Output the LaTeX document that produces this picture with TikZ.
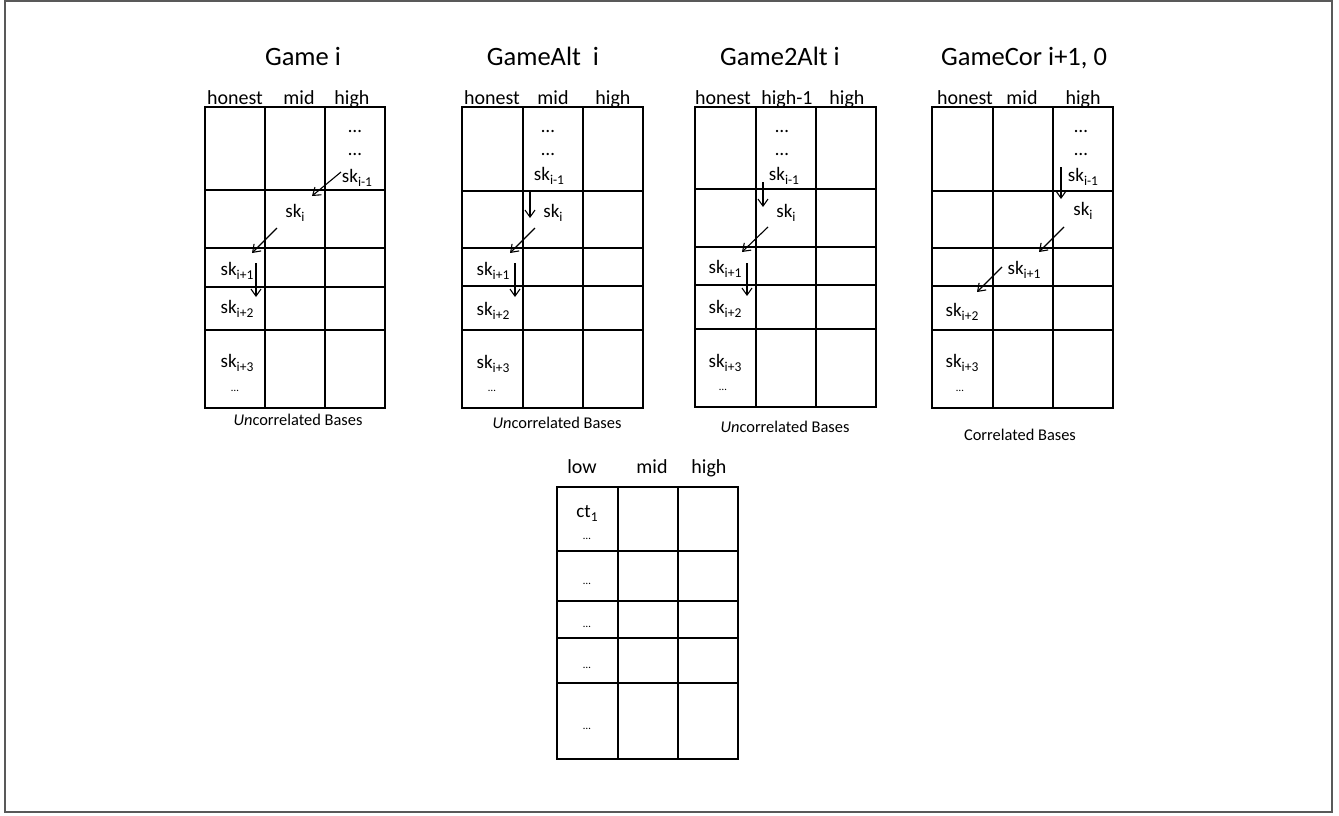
\documentclass[tikz,border=0pt]{standalone}
\usepackage{fontspec}
\setmainfont{Carlito}
\usetikzlibrary{arrows.meta}
\newcommand{\sbs}[1]{\raisebox{-0.45ex}{\fontsize{13.5}{13.5}\selectfont #1}}
\tikzset{
  title/.style={font=\fontsize{26.5}{30}\selectfont, anchor=base, inner sep=0pt},
  colhead/.style={font=\fontsize{20}{22}\selectfont, anchor=base, inner sep=0pt},
  entry/.style={font=\fontsize{19}{22}\selectfont, anchor=base, inner sep=0pt},
  smalldots/.style={font=\fontsize{11}{12}\selectfont, anchor=base, inner sep=0pt},
  caption/.style={font=\fontsize{16.4}{19}\selectfont, inner sep=0pt},
  gridline/.style={line width=1.7pt},
  flow/.style={-{Straight Barb[length=7pt,width=10pt]}, line width=1.1pt}
}
\begin{document}
\begin{tikzpicture}[x=1pt,y=-1pt]
    \useasboundingbox (0,0) rectangle (1339,815);
    \draw[gray!70!black, line width=1.5pt] (5,1) rectangle (1332,812);

    % Game i
    \node[title] (t1) at (303,65) {Game i};
    \node[colhead] (g1h1) at (235,104) {honest};
    \node[colhead] (g1h2) at (299,104) {mid};
    \node[colhead] (g1h3) at (352,104) {high};
    \draw[gridline] (205,107) rectangle (385,408);
    \foreach \x in {265,325} \draw[gridline] (\x,107) -- (\x,408);
    \foreach \y in {190,248,287,330} \draw[gridline] (205,\y) -- (385,\y);
    \node[entry] (g1d1) at (355,132) {…};
    \node[entry] (g1d2) at (355,155) {…};
    \node[entry] (g1s0) at (357,182) {sk\sbs{i-1}};
    \node[entry] (g1s1) at (295,217) {sk\sbs{i}};
    \node[entry] (g1s2) at (237,275) {sk\sbs{i+1}};
    \node[entry] (g1s3) at (237,313) {sk\sbs{i+2}};
    \node[entry] (g1s4) at (237,367) {sk\sbs{i+3}};
    \node[smalldots] (g1d3) at (235,391) {…};
    \coordinate (g1a) at (341,172); \coordinate (g1b) at (312,196);
    \coordinate (g1c) at (277,228); \coordinate (g1d) at (252,253);
    \coordinate (g1e) at (256,263); \coordinate (g1f) at (256,297);
    \draw[flow] (g1a) -- (g1b);
    \draw[flow] (g1c) -- (g1d);
    \draw[flow] (g1e) -- (g1f);
    \node[caption] (c1) at (298,420) {\textit{Un}correlated Bases};

    % GameAlt i
    \node[title] (t2) at (543,65) {GameAlt\ \ i};
    \node[colhead] (g2h1) at (492,104) {honest};
    \node[colhead] (g2h2) at (553,104) {mid};
    \node[colhead] (g2h3) at (613,104) {high};
    \draw[gridline] (462,107) rectangle (643,408);
    \foreach \x in {523,583} \draw[gridline] (\x,107) -- (\x,408);
    \foreach \y in {191,248,286,330} \draw[gridline] (462,\y) -- (643,\y);
    \node[entry] (g2d1) at (548,132) {…};
    \node[entry] (g2d2) at (548,155) {…};
    \node[entry] (g2s0) at (549,180) {sk\sbs{i-1}};
    \node[entry] (g2s1) at (553,217) {sk\sbs{i}};
    \node[entry] (g2s2) at (493,275) {sk\sbs{i+1}};
    \node[entry] (g2s3) at (493,315) {sk\sbs{i+2}};
    \node[entry] (g2s4) at (493,368) {sk\sbs{i+3}};
    \node[smalldots] (g2d3) at (492,391) {…};
    \coordinate (g2a) at (530,192); \coordinate (g2b) at (530,218);
    \coordinate (g2c) at (535,228); \coordinate (g2d) at (510,253);
    \coordinate (g2e) at (515,263); \coordinate (g2f) at (515,297);
    \draw[flow] (g2a) -- (g2b);
    \draw[flow] (g2c) -- (g2d);
    \draw[flow] (g2e) -- (g2f);
    \node[caption] (c2) at (557,423) {\textit{Un}correlated Bases};

    % Game2Alt i
    \node[title] (t3) at (780,65) {Game2Alt i};
    \node[colhead] (g3h1) at (723,104) {honest};
    \node[colhead] (g3h2) at (787,104) {high-1};
    \node[colhead] (g3h3) at (847,104) {high};
    \draw[gridline] (695,107) rectangle (876,407);
    \foreach \x in {756,816} \draw[gridline] (\x,107) -- (\x,407);
    \foreach \y in {189,247,285,329} \draw[gridline] (695,\y) -- (876,\y);
    \node[entry] (g3d1) at (782,132) {…};
    \node[entry] (g3d2) at (782,155) {…};
    \node[entry] (g3s0) at (784,180) {sk\sbs{i-1}};
    \node[entry] (g3s1) at (786,217) {sk\sbs{i}};
    \node[entry] (g3s2) at (725,273) {sk\sbs{i+1}};
    \node[entry] (g3s3) at (725,313) {sk\sbs{i+2}};
    \node[entry] (g3s4) at (725,367) {sk\sbs{i+3}};
    \node[smalldots] (g3d3) at (723,390) {…};
    \coordinate (g3a) at (763,182); \coordinate (g3b) at (763,207);
    \coordinate (g3c) at (768,227); \coordinate (g3d) at (742,252);
    \coordinate (g3e) at (747,263); \coordinate (g3f) at (747,296);
    \draw[flow] (g3a) -- (g3b);
    \draw[flow] (g3c) -- (g3d);
    \draw[flow] (g3e) -- (g3f);
    \node[caption] (c3) at (785,427) {\textit{Un}correlated Bases};

    % GameCor i+1, 0
    \node[title] (t4) at (1024,65) {GameCor i+1, 0};
    \node[colhead] (g4h1) at (965,104) {honest};
    \node[colhead] (g4h2) at (1022,104) {mid};
    \node[colhead] (g4h3) at (1083,104) {high};
    \draw[gridline] (932,107) rectangle (1113,408);
    \foreach \x in {993,1053} \draw[gridline] (\x,107) -- (\x,408);
    \foreach \y in {191,248,286,330} \draw[gridline] (932,\y) -- (1113,\y);
    \node[entry] (g4d1) at (1081,132) {…};
    \node[entry] (g4d2) at (1081,155) {…};
    \node[entry] (g4s0) at (1083,181) {sk\sbs{i-1}};
    \node[entry] (g4s1) at (1083,215) {sk\sbs{i}};
    \node[entry] (g4s2) at (1024,274) {sk\sbs{i+1}};
    \node[entry] (g4s3) at (962,316) {sk\sbs{i+2}};
    \node[entry] (g4s4) at (962,367) {sk\sbs{i+3}};
    \node[smalldots] (g4d3) at (960,391) {…};
    \coordinate (g4a) at (1061,167); \coordinate (g4b) at (1061,199);
    \coordinate (g4c) at (1064,227); \coordinate (g4d) at (1039,252);
    \coordinate (g4e) at (1002,267); \coordinate (g4f) at (977,292);
    \draw[flow] (g4a) -- (g4b);
    \draw[flow] (g4c) -- (g4d);
    \draw[flow] (g4e) -- (g4f);
    \node[caption] (c4) at (1020,435) {Correlated Bases};

    % ciphertexts
    \node[colhead] (bh1) at (582,473) {low};
    \node[colhead] (bh2) at (652,473) {mid};
    \node[colhead] (bh3) at (709,473) {high};
    \draw[gridline] (557,487) rectangle (738,759);
    \foreach \x in {618,678} \draw[gridline] (\x,487) -- (\x,759);
    \foreach \y in {551,601,638,683} \draw[gridline] (557,\y) -- (738,\y);
    \node[entry] (ct) at (587,517) {ct\sbs{1}};
    \node[smalldots] (bd1) at (587,539) {…};
    \node[smalldots] (bd2) at (587,584) {…};
    \node[smalldots] (bd3) at (587,627) {…};
    \node[smalldots] (bd4) at (587,668) {…};
    \node[smalldots] (bd5) at (587,729) {…};
\end{tikzpicture}
\end{document}
